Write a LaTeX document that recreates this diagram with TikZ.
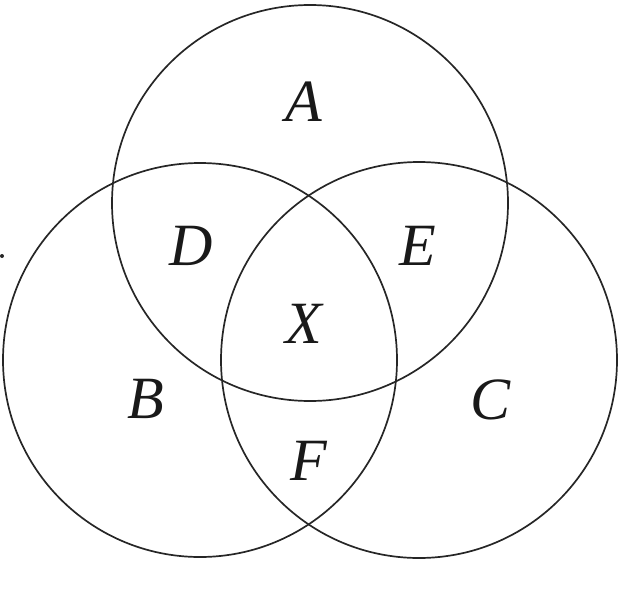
\documentclass[tikz,border=0pt]{standalone}
\usepackage{fontspec}
\setmainfont{Liberation Serif}
\begin{document}
\begin{tikzpicture}[x=1pt,y=-1pt,
  ring/.style={draw=black!85, line width=1.7pt},
  lbl/.style={font=\fontsize{60}{60}\selectfont\itshape, text=black!90, inner sep=0pt}]
\useasboundingbox (0,0) rectangle (636,610);
\draw[ring] (310,203) circle[radius=198];
\draw[ring] (200,360) circle[radius=197];
\draw[ring] (419,360) circle[radius=198];
\fill[black!85] (2,256) circle[radius=2];
\node[lbl] (A) at (304,102) {A};
\node[lbl] (D) at (191,246) {D};
\node[lbl] (E) at (418,246) {E};
\node[lbl] (X) at (304,324) {X};
\node[lbl] (B) at (146,399) {B};
\node[lbl] (C) at (491,400) {C};
\node[lbl] (F) at (309,461) {F};
\end{tikzpicture}
\end{document}
